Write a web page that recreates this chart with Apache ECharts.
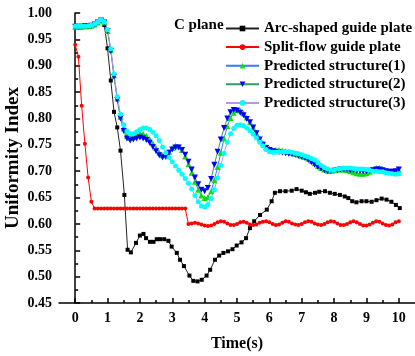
<!DOCTYPE html>
<html><head><meta charset="utf-8">
<script src="https://cdn.jsdelivr.net/npm/echarts@6/dist/echarts.min.js"></script>
<style>html,body{margin:0;padding:0;background:#fff}#c{width:415px;height:356px}</style>
</head><body><div id="c"></div>
<script>
const FONT = '"Liberation Serif","Times New Roman",serif';
const seriesNames = ['Arc-shaped guide plate','Split-flow guide plate','Predicted structure(1)','Predicted structure(2)','Predicted structure(3)'];
const xTicks = [0,1,2,3,4,5,6,7,8,9,10];
const xMinorTicks = [0.5,1.5,2.5,3.5,4.5,5.5,6.5,7.5,8.5,9.5];
const time = [
0,0.1,0.2,0.3,0.4,0.5,0.6,0.7,0.8,0.9,
1,1.1,1.2,1.3,1.4,1.5,1.6,1.7,1.8,1.9,
2,2.1,2.2,2.3,2.4,2.5,2.6,2.7,2.8,2.9,
3,3.1,3.2,3.3,3.4,3.5,3.6,3.7,3.8,3.9,
4,4.1,4.2,4.3,4.4,4.5,4.6,4.7,4.8,4.9,
5,5.1,5.2,5.3,5.4,5.5,5.6,5.7,5.8,5.9,
6,6.1,6.2,6.3,6.4,6.5,6.6,6.7,6.8,6.9,
7,7.1,7.2,7.3,7.4,7.5,7.6,7.7,7.8,7.9,
8,8.1,8.2,8.3,8.4,8.5,8.6,8.7,8.8,8.9,
9,9.1,9.2,9.3,9.4,9.5,9.6,9.7,9.8,9.9,
10];
const arcTime = [0,0.1,0.2,0.3,0.4,0.5,0.6,0.7,0.8,0.9,1.0,1.1,1.2,1.3,1.4,1.52,1.62,1.72,1.88,2.0,2.11,2.19,2.31,2.42,2.52,2.62,2.75,2.88,2.98,3.14,3.24,3.36,3.53,3.65,3.78,3.91,4.06,4.17,4.32,4.45,4.58,4.72,4.86,4.99,5.14,5.28,5.40,5.53,5.71,5.92,6.07,6.17,6.33,6.5,6.69,6.84,7.0,7.13,7.25,7.41,7.54,7.72,7.87,8.02,8.18,8.33,8.44,8.56,8.69,8.85,9.0,9.16,9.31,9.47,9.62,9.77,9.91,10.03];
const arcShaped = [0.975,0.975,0.975,0.975,0.976,0.977,0.979,0.983,0.986,0.977,0.933,0.872,0.8125,0.783,0.739,0.655,0.551,0.546,0.564,0.578,0.581,0.573,0.566,0.566,0.571,0.571,0.571,0.568,0.557,0.545,0.532,0.520,0.502,0.492,0.491,0.494,0.502,0.513,0.532,0.540,0.545,0.548,0.552,0.559,0.565,0.573,0.592,0.605,0.617,0.627,0.643,0.659,0.662,0.662,0.663,0.666,0.663,0.660,0.657,0.659,0.661,0.662,0.659,0.657,0.655,0.652,0.649,0.643,0.641,0.643,0.643,0.642,0.645,0.648,0.646,0.642,0.636,0.630];
const splitFlow = [
.940,.917,.824,.752,.688,.642,.629,.629,.629,.629,
.629,.629,.629,.629,.629,.629,.629,.629,.629,.629,
.629,.629,.629,.629,.629,.629,.629,.629,.629,.629,
.629,.629,.629,.629,.629,.600,.601,.602,.601,.599,
.597,.596,.597,.600,.603,.605,.604,.601,.598,.598,
.600,.603,.604,.602,.599,.598,.599,.602,.604,.605,
.603,.600,.598,.599,.602,.605,.604,.601,.599,.598,
.600,.603,.605,.604,.601,.599,.598,.600,.603,.605,
.604,.601,.598,.598,.600,.603,.605,.603,.600,.597,
.597,.599,.602,.605,.604,.601,.598,.597,.599,.603,
.605];
const predicted1 = [
.974,.974,.974,.975,.975,.976,.978,.982,.986,.982,
.966,.930,.882,.838,.803,.781,.767,.763,.765,.769,
.772,.771,.767,.761,.753,.744,.735,.730,.731,.737,
.744,.748,.747,.740,.728,.713,.697,.680,.665,.654,
.649,.651,.662,.683,.708,.735,.762,.785,.801,.811,
.816,.815,.810,.802,.793,.783,.772,.762,.753,.746,
.742,.740,.740,.740,.739,.738,.737,.735,.733,.731,
.729,.727,.724,.720,.715,.710,.706,.703,.701,.701,
.702,.703,.703,.703,.702,.700,.698,.696,.695,.695,
.696,.699,.703,.706,.706,.704,.701,.699,.699,.700,
.702];
const predicted2 = [
.974,.974,.974,.975,.975,.976,.978,.982,.986,.982,
.966,.928,.879,.835,.800,.776,.762,.758,.760,.762,
.764,.762,.759,.754,.746,.738,.730,.726,.727,.735,
.741,.745,.745,.740,.731,.718,.703,.688,.675,.665,
.662,.668,.685,.712,.737,.760,.782,.800,.812,.816,
.815,.811,.806,.799,.793,.783,.772,.760,.750,.744,
.740,.738,.737,.736,.735,.734,.733,.732,.731,.729,
.727,.725,.721,.717,.712,.708,.705,.702,.700,.700,
.701,.702,.703,.703,.703,.702,.702,.701,.701,.700,
.700,.701,.702,.703,.703,.702,.700,.699,.699,.700,
.703];
const predicted3 = [
.975,.975,.975,.975,.976,.977,.979,.983,.987,.983,
.968,.932,.885,.841,.808,.788,.776,.771,.771,.775,
.779,.782,.782,.779,.774,.767,.758,.746,.735,.726,
.718,.710,.702,.694,.686,.677,.666,.654,.642,.634,
.632,.637,.648,.665,.687,.711,.734,.755,.771,.781,
.787,.788,.786,.782,.776,.770,.763,.755,.748,.741,
.737,.736,.736,.737,.737,.737,.737,.736,.734,.733,
.731,.729,.727,.724,.721,.716,.711,.707,.704,.702,
.702,.704,.705,.706,.706,.706,.705,.704,.704,.704,
.703,.702,.700,.700,.699,.699,.697,.696,.695,.694,
.695];

function zip(xs, ys){ return ys.map((v,i)=>[xs[i], v]); }

const chart = echarts.init(document.getElementById('c'), null, {renderer:'canvas'});
const lbl = {fontFamily: FONT, fontWeight:'bold', fontSize:14, color:'#000'};
function mk(name, xs, ys, lineColor, markColor, symbol, size, rot){
  return {name, type:'line', xAxisIndex:0, yAxisIndex:0, data: zip(xs, ys),
    symbol, symbolSize:size, symbolRotate: rot||0, showSymbol:true,
    lineStyle:{color:lineColor, width:1}, itemStyle:{color:markColor, borderWidth:0},
    emphasis:{disabled:true}, animation:false};
}
chart.setOption({
  animation:false,
  grid:{left:59, right:0, top:13, bottom:53, containLabel:false, outerBoundsMode:'none'},
  legend:{
    data:seriesNames, orient:'vertical', left:220, top:16,
    itemWidth:33, itemHeight:7, itemGap:3.6,
    textStyle:{fontFamily:FONT, fontWeight:'bold', fontSize:15, color:'#000', lineHeight:15},
    selectedMode:false
  },
  graphic:[{type:'text', left:174, top:18, style:{text:'C plane', fontFamily:FONT, fontWeight:'bold', fontSize:15, fill:'#000'}}],
  xAxis:[{
    type:'value', min:-0.5, max:10.5,
    name:'Time(s)', nameLocation:'middle', nameGap:33, nameMoveOverlap:false,
    nameTextStyle:{fontFamily:FONT, fontWeight:'bold', fontSize:16, color:'#000'},
    axisLine:{show:true, lineStyle:{color:'#000', width:1.5}},
    axisTick:{show:true, inside:true, length:5, customValues:xTicks, lineStyle:{color:'#000', width:1.5}},
    axisLabel:Object.assign({customValues:xTicks, margin:8}, lbl),
    splitLine:{show:false}
  },{
    type:'value', min:-0.5, max:10.5, position:'bottom',
    axisLine:{show:false},
    axisTick:{show:true, inside:true, length:3, customValues:xMinorTicks, lineStyle:{color:'#000', width:1.5}},
    axisLabel:{show:false}, splitLine:{show:false}
  }],
  yAxis:{
    type:'value', min:0.45, max:1.0, interval:0.05,
    name:'Uniformity Index', nameLocation:'middle', nameGap:36, nameMoveOverlap:false,
    nameTextStyle:{fontFamily:FONT, fontWeight:'bold', fontSize:19, color:'#000'},
    axisLine:{show:true, lineStyle:{color:'#000', width:1.5}},
    axisTick:{show:true, inside:true, length:5, lineStyle:{color:'#000', width:1.5}},
    minorTick:{show:true, splitNumber:2, length:3, lineStyle:{color:'#000', width:1.5}},
    axisLabel:Object.assign({formatter:v=>v.toFixed(2), margin:7}, lbl),
    splitLine:{show:false}
  },
  series:[
    mk(seriesNames[0], arcTime, arcShaped, '#222', '#000', 'rect', 4),
    mk(seriesNames[1], time, splitFlow, '#ff0000', '#ff0000', 'circle', 4),
    mk(seriesNames[2], time, predicted1, '#2f7cff', '#11dd11', 'triangle', 6),
    mk(seriesNames[3], time, predicted2, '#2e9a66', '#0000ff', 'triangle', 6, 180),
    mk(seriesNames[4], time, predicted3, '#b794f0', '#00ffff', 'circle', 5)
  ]
});
</script></body></html>
